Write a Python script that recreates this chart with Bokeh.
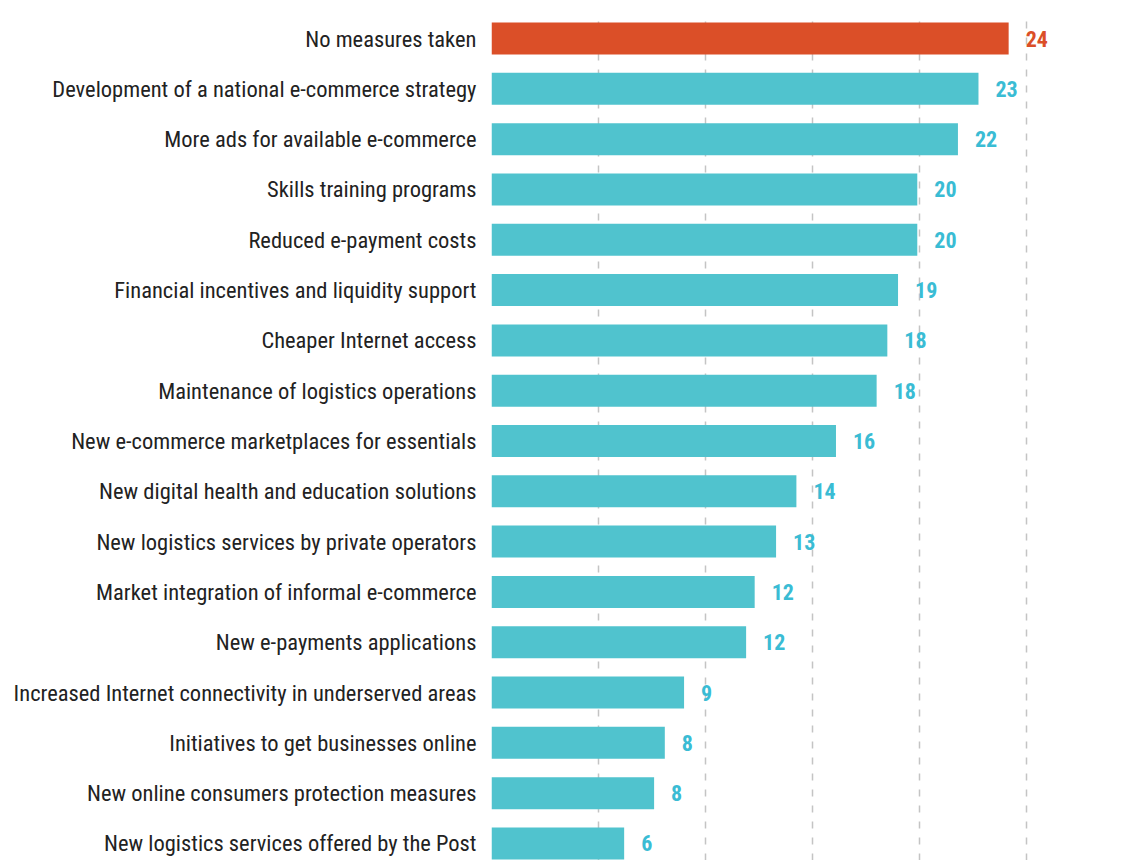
from bokeh.plotting import figure
from bokeh.models import ColumnDataSource, Range1d, FixedTicker
from bokeh.core.properties import value
from bokeh.embed import file_html
from bokeh.resources import INLINE

categories = [
    "No measures taken",
    "Development of a national e-commerce strategy",
    "More ads for available e-commerce",
    "Skills training programs",
    "Reduced e-payment costs",
    "Financial incentives and liquidity support",
    "Cheaper Internet access",
    "Maintenance of logistics operations",
    "New e-commerce marketplaces for essentials",
    "New digital health and education solutions",
    "New logistics services by private operators",
    "Market integration of informal e-commerce",
    "New e-payments applications",
    "Increased Internet connectivity in underserved areas",
    "Initiatives to get businesses online",
    "New online consumers protection measures",
    "New logistics services offered by the Post",
]
values = [24.17, 22.76, 21.8, 19.9, 19.9, 19.0, 18.5, 18.0, 16.1, 14.25,
          13.3, 12.3, 11.9, 9.0, 8.1, 7.6, 6.2]
value_labels = ["24", "23", "22", "20", "20", "19", "18", "18", "16", "14",
                "13", "12", "12", "9", "8", "8", "6"]
grid_ticks = [0, 5, 10, 15, 20, 25]

TEAL = "#50C3CE"
TEAL_TEXT = "#3ABCD4"
ORANGE = "#DB4F28"
FONT = "'Roboto Condensed', Roboto"

n = len(categories)
ypos = [n - 1 - i for i in range(n)]
bar_colors = [ORANGE if i == 0 else TEAL for i in range(n)]
text_colors = [ORANGE if i == 0 else TEAL_TEXT for i in range(n)]

src = ColumnDataSource(dict(y=ypos, v=values, lab=value_labels,
                            bc=bar_colors, tc=text_colors))

p = figure(width=1110, height=860, output_backend="svg", toolbar_location=None,
           x_range=Range1d(0, 28.93), y_range=Range1d(-0.338, 16.497),
           x_axis_location=None, min_border_left=491, min_border_right=0,
           min_border_top=13, min_border_bottom=0)
p.outline_line_color = None
p.background_fill_color = "white"

p.ygrid.grid_line_color = None
p.xgrid.ticker = FixedTicker(ticks=grid_ticks)
p.xgrid.grid_line_color = "#c4c4c4"
p.xgrid.grid_line_width = 1.5
p.xgrid.grid_line_dash = "7 9"

p.hbar(y="y", left=0, right="v", height=0.636, fill_color="bc", line_color=None,
       source=src)
p.text(x="v", y="y", text="lab", text_color="tc", x_offset=17,
       text_baseline="middle", text_align="left",
       text_font=value(FONT), text_font_style="bold",
       text_font_size="22px", source=src)

p.yaxis.ticker = FixedTicker(ticks=ypos)
p.yaxis.major_label_overrides = {y: c for y, c in zip(ypos, categories)}
p.yaxis.axis_line_color = None
p.yaxis.major_tick_line_color = None
p.yaxis.minor_tick_line_color = None
p.yaxis.major_label_standoff = 9
p.yaxis.major_label_text_font = FONT
p.yaxis.major_label_text_font_size = "22.5px"
p.yaxis.major_label_text_color = "#222222"

open("out.html", "w").write(file_html(p, INLINE))
